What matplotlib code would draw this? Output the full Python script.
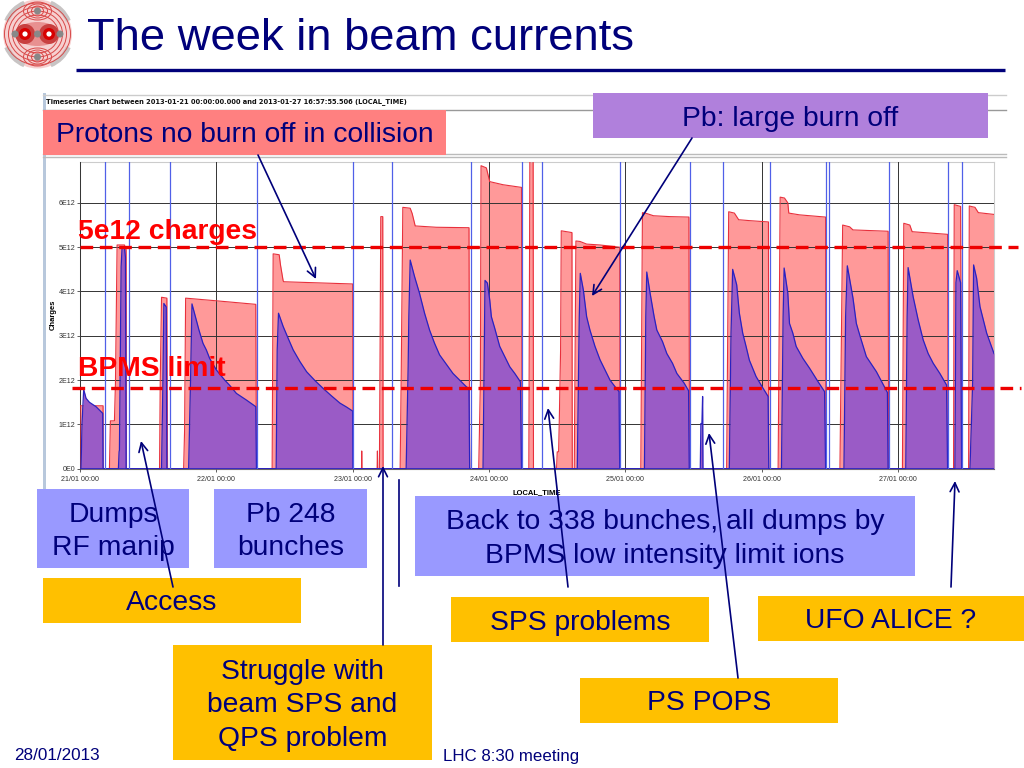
import matplotlib
matplotlib.use('Agg')
import matplotlib.pyplot as plt
from matplotlib.patches import Rectangle, Circle, Ellipse, Wedge

plt.rcParams['font.family'] = ['Liberation Sans', 'DejaVu Sans']

# hours since 21/01 00:00, intensity in units of 1e12 charges
proton_t = [0, 0.02, 4.06, 4.07, 5.18, 5.35, 6.06, 6.24, 6.47, 6.53, 7.82, 8.12, 8.18,
            14.0, 14.12, 14.35, 15.29, 15.41,
            18.24, 18.41, 18.59, 24.0, 30.94, 31.06,
            33.82, 34.0, 35.06, 35.29, 35.76, 35.88, 48.0, 48.06,
            49.55, 49.59, 49.63, 52.3, 52.35, 52.4,
            52.7, 52.82, 52.94, 53.29, 53.35,
            56.35, 56.53, 56.82, 58.12, 58.47, 59.0, 62.71, 68.47, 68.59,
            70.18, 70.47, 70.59, 71.53, 72.12, 74.47, 77.71, 77.82,
            79.0, 79.18, 79.76, 79.82,
            83.88, 84.0, 84.24, 84.35, 84.59, 84.71, 86.59, 86.65,
            87.0, 87.29, 88.0, 89.18, 91.53, 95.0, 95.06,
            98.71, 99.0, 99.76, 100.94, 103.88, 107.18, 107.29,
            113.82, 114.18, 115.18, 115.94, 117.82, 121.18, 121.24,
            122.88, 123.24, 124.0, 124.59, 124.76, 126.65, 131.24, 131.29,
            133.76, 134.24, 135.47, 136.06, 142.24, 142.35,
            144.76, 145.0, 146.06, 146.47, 152.71, 152.82,
            153.76, 153.88, 155.0, 155.18,
            156.41, 156.53, 157.53, 158.12, 160.88]
proton_q = [0, 1.42, 1.42, 0, 0, 1.08, 1.08, 1.93, 4.41, 5.05, 5.05, 4.94, 0,
            0, 1.93, 3.87, 3.85, 0,
            0, 0.87, 3.85, 3.79, 3.71, 0,
            0, 4.85, 4.83, 4.6, 4.24, 4.22, 4.17, 0,
            0, 0.4, 0, 0, 0.4, 0,
            0, 2.67, 5.69, 5.69, 0,
            0, 2.0, 5.9, 5.88, 5.76, 5.48, 5.45, 5.44, 0,
            0, 1.93, 6.84, 6.79, 6.48, 6.41, 6.35, 0,
            0, 6.93, 6.93, 0,
            0, 0.38, 0.38, 1.0, 2.67, 5.37, 5.33, 0,
            0, 5.14, 5.13, 5.07, 5.05, 5.0, 0,
            0, 5.78, 5.76, 5.71, 5.69, 5.68, 0,
            0, 5.8, 5.77, 5.62, 5.6, 5.57, 0,
            0, 6.13, 6.11, 6.0, 5.77, 5.73, 5.68, 0,
            0, 5.5, 5.46, 5.39, 5.36, 0,
            0, 5.54, 5.5, 5.35, 5.29, 0,
            0, 5.96, 5.92, 0,
            0, 5.93, 5.9, 5.78, 5.74]

lead_t = [0.18, 0.35, 0.65, 1.06, 1.65, 2.82, 4.0, 4.06,
          6.76, 6.88, 6.94, 7.24, 7.41, 7.82, 8.0, 8.12,
          14.35, 14.59, 14.76, 15.18, 15.29,
          19.12, 19.47, 19.71, 20.47, 20.94, 21.65, 22.24, 22.82, 24.0, 25.47, 26.29, 27.53, 28.35, 29.29, 30.94, 31.06,
          34.53, 34.71, 34.94, 35.35, 35.76, 36.65, 37.53, 38.7, 39.88, 41.35, 42.82, 44.3, 45.76, 46.94, 48.0, 48.03,
          57.41, 57.76, 57.88, 58.12, 58.88, 59.76, 60.65, 61.53, 62.41, 63.29, 64.47, 65.65, 66.82, 68.0, 68.47, 68.59,
          70.94, 71.12, 71.29, 71.71, 72.12, 72.41, 73.0, 73.88, 74.76, 75.65, 76.53, 77.53, 77.71,
          87.53, 87.88, 88.06, 88.59, 89.18, 89.76, 90.65, 91.53, 92.41, 93.29, 94.18, 94.88, 95.0,
          99.35, 99.59, 99.76, 100.35, 101.06, 101.53, 102.53, 103.29, 104.29, 105.06, 106.35, 107.12, 107.24,
          109.18, 109.29, 109.47, 109.59, 109.65,
          114.29, 114.59, 114.88, 115.59, 116.06, 116.65, 117.24, 117.82, 119.0, 119.88, 121.12, 121.24,
          123.47, 123.76, 123.94, 124.59, 124.88, 125.47, 126.06, 127.24, 128.41, 129.88, 131.06, 131.24,
          134.47, 134.76, 135.06, 135.59, 136.06, 136.65, 137.24, 138.41, 140.18, 142.12, 142.24,
          145.35, 145.59, 145.76, 146.65, 147.53, 148.41, 149.29, 150.18, 151.35, 152.53, 152.71,
          154.0, 154.18, 154.41, 155.0, 155.18,
          156.65, 157.12, 157.29, 157.82, 158.41, 159.0, 159.59, 160.88]
lead_q = [0, 1.0, 1.79, 1.59, 1.5, 1.4, 1.25, 0,
          0, 0.38, 0.42, 4.56, 5.0, 5.0, 4.77, 0,
          0, 1.93, 3.73, 3.65, 0,
          0, 2.08, 3.72, 3.36, 3.13, 2.83, 2.68, 2.49, 2.23, 2.0, 1.89, 1.7, 1.63, 1.55, 1.4, 0,
          0, 2.68, 3.51, 3.36, 3.21, 2.94, 2.68, 2.42, 2.19, 1.99, 1.81, 1.64, 1.48, 1.39, 1.3, 0,
          0, 2.3, 3.43, 4.71, 4.34, 3.96, 3.51, 3.13, 2.83, 2.57, 2.36, 2.15, 2.0, 1.85, 1.81, 0,
          0, 2.08, 4.25, 4.19, 3.81, 3.43, 3.17, 2.76, 2.53, 2.3, 2.15, 1.96, 0,
          0, 3.43, 4.41, 4.04, 3.43, 3.13, 2.76, 2.46, 2.23, 2.0, 1.85, 1.74, 0,
          0, 3.43, 4.44, 3.96, 3.43, 3.13, 2.87, 2.6, 2.38, 2.15, 1.93, 1.76, 0,
          0, 1.02, 1.02, 1.63, 0,
          0, 3.06, 4.5, 4.15, 3.51, 3.06, 2.76, 2.45, 2.08, 1.89, 1.63, 0,
          0, 3.43, 4.53, 3.96, 3.28, 3.06, 2.76, 2.49, 2.27, 1.97, 1.74, 0,
          0, 3.43, 4.58, 4.19, 3.85, 3.28, 3.02, 2.53, 2.19, 1.72, 0,
          0, 3.43, 4.54, 3.88, 3.36, 2.91, 2.6, 2.38, 2.15, 1.89, 0,
          0, 4.2, 4.47, 4.2, 0,
          0, 1.93, 4.6, 4.3, 3.66, 3.36, 3.06, 2.6]

fill_marks = [4.35, 8.59, 15.82, 31.24, 48.0, 54.94, 68.82, 77.88, 81.35, 95.12,
              107.35, 113.12, 121.41, 131.29, 131.88, 142.41, 152.82, 155.29]
day_ticks = [0, 24, 48, 72, 96, 120, 144]
day_labels = ['21/01 00:00', '22/01 00:00', '23/01 00:00', '24/01 00:00',
              '25/01 00:00', '26/01 00:00', '27/01 00:00']
q_ticks = [0, 1, 2, 3, 4, 5, 6]
q_labels = ['0E0', '1E12', '2E12', '3E12', '4E12', '5E12', '6E12']

W, H = 1024, 768
NAVY = '#00007a'
fig = plt.figure(figsize=(W / 100, H / 100), dpi=100)

# slide layer, in pixels
bg = fig.add_axes([0, 0, 1, 1], zorder=0)
bg.set_xlim(0, W)
bg.set_ylim(H, 0)
bg.axis('off')

# chart window behind the plot
bg.add_patch(Rectangle((43, 93), 2.5, 397, fc='#b8c8dc', ec='none'))
bg.plot([43, 1006], [95, 95], color='#cccccc', lw=1)
bg.plot([43, 1006], [110, 110], color='#999999', lw=1)
for yy in (154, 157):
    bg.plot([43, 1006], [yy, yy], color='#bbbbbb', lw=1)
bg.text(46, 102, 'Timeseries Chart between 2013-01-21 00:00:00.000 and 2013-01-27 16:57:55.506 (LOCAL_TIME)',
        fontsize=5.3, fontweight='bold', color='#111111', va='center', family=['DejaVu Sans'],
        stretch='condensed')

# the timeseries chart itself
ax = fig.add_axes([80 / W, 1 - 468.7 / H, 914 / W, 307 / H], zorder=1)
ax.set_xlim(0, 160.88)
ax.set_ylim(0, 6.93)
ax.fill_between(proton_t, proton_q, color='#ff9999', lw=0, zorder=2)
ax.plot(proton_t, proton_q, color='#e8303c', lw=0.8, zorder=3)
ax.fill_between(lead_t, lead_q, color='#9a5bc6', lw=0, zorder=4)
ax.plot(lead_t, lead_q, color='#2a22c0', lw=0.9, zorder=5)
ax.plot([0, 160.88], [0, 0], color='#2a22c0', lw=1.2, zorder=5)
for t in fill_marks:
    ax.axvline(t, color='#5060e8', lw=0.9, zorder=6)
ax.set_xticks(day_ticks)
ax.set_xticklabels(day_labels, fontsize=5.1, color='#333333')
ax.set_yticks(q_ticks)
ax.set_yticklabels(q_labels, fontsize=5.1, color='#333333')
ax.tick_params(length=2, width=0.6, color='#444444')
ax.tick_params(axis='x', pad=3)
ax.tick_params(axis='y', pad=1.5)
ax.grid(True, color='#333333', lw=0.7, zorder=3)
ax.set_axisbelow(False)
ax.set_xlabel('LOCAL_TIME', fontsize=5.5, fontweight='bold', labelpad=4.8)
ax.set_ylabel('Charges', fontsize=5.5, fontweight='bold', labelpad=1)
for side in ('top', 'right', 'left'):
    ax.spines[side].set_color('#cccccc')
ax.spines['bottom'].set_color('#666666')

# annotation layer
top = fig.add_axes([0, 0, 1, 1], zorder=2)
top.set_xlim(0, W)
top.set_ylim(H, 0)
top.axis('off')
top.patch.set_alpha(0)

# logo
top.add_patch(Circle((37.5, 34), 34.5, fc='#f6d0d0', ec='none'))
for a in (45, 135, 225, 315):
    top.add_patch(Wedge((37.5, 34), 36, a - 22, a + 22, width=5, fc='#c8c4c4', ec='none'))
for rx, ry in ((33, 31), (29, 27), (25, 23), (21, 19)):
    top.add_patch(Ellipse((37.5, 34), rx * 2, ry * 2, fc='none', ec='#d84848', lw=0.7))
for cy in (11, 57):
    for rx, ry in ((14, 9), (10, 7), (6, 5)):
        top.add_patch(Ellipse((37.5, cy), rx * 2, ry * 2, fc='none', ec='#d84848', lw=0.7))
top.add_patch(Ellipse((37.5, 34), 44, 24, fc='#e89090', ec='none'))
for cx in (25, 49):
    top.add_patch(Circle((cx, 34), 10, fc='#c84040', ec='none'))
    top.add_patch(Circle((cx, 34), 6, fc='#d80000', ec='none'))
    top.add_patch(Circle((cx, 34), 2.6, fc='white', ec='none'))
for cx, cy in ((37.5, 11), (37.5, 57), (15, 34), (60, 34), (37.5, 34)):
    top.add_patch(Circle((cx, cy), 3.5, fc='#888888', ec='none'))

top.text(87, 50, 'The week in beam currents', fontsize=32.7, color=NAVY, va='baseline')
top.plot([76, 1005], [69.5, 69.5], color=NAVY, lw=2.4, solid_capstyle='butt')

# (x0, y0, x1, y1, colour, text)
boxes = [
    (43, 110, 446, 155, '#ff8080', 'Protons no burn off in collision'),
    (593, 93, 988, 138, '#b080dc', 'Pb: large burn off'),
    (37, 489, 189, 568, '#9999ff', 'Dumps\nRF manip'),
    (214, 489, 367, 568, '#9999ff', 'Pb 248\nbunches'),
    (415, 496, 915, 576, '#9999ff', 'Back to 338 bunches, all dumps by\nBPMS low intensity limit ions'),
    (43, 578, 301, 623, '#ffc000', 'Access'),
    (451, 597, 709, 642, '#ffc000', 'SPS problems'),
    (758, 596, 1024, 641, '#ffc000', 'UFO ALICE ?'),
    (173, 645, 432, 760, '#ffc000', 'Struggle with\nbeam SPS and\nQPS problem'),
    (580, 678, 838, 723, '#ffc000', 'PS POPS'),
]
for x0, y0, x1, y1, col, txt in boxes:
    top.add_patch(Rectangle((x0, y0), x1 - x0, y1 - y0, fc=col, ec='none'))
    top.text((x0 + x1) / 2, (y0 + y1) / 2 + 3, txt, fontsize=20.3, color=NAVY, ha='center',
             va='center', linespacing=1.39)

arrows = [
    ((258, 155), (316, 279)),
    ((692, 138), (592, 296)),
    ((173, 587), (141, 441)),
    ((383, 645), (383, 466)),
    ((568, 587), (548, 408)),
    ((738, 678), (709, 433)),
    ((951, 587), (955, 481)),
]
for start, end in arrows:
    top.annotate('', xy=end, xytext=start,
                 arrowprops=dict(arrowstyle='->', color=NAVY, lw=1.2, mutation_scale=16,
                                 shrinkA=0, shrinkB=0))
top.plot([399, 399], [480, 586], color=NAVY, lw=1.2)

# limits
top.plot([80, 1018], [247, 247], color='#ee0000', lw=2.4, dashes=(3.8, 2.0))
top.plot([72, 1021], [387.5, 387.5], color='#ee0000', lw=2.4, dashes=(3.8, 2.0))
top.text(78, 232, '5e12 charges', fontsize=20.3, fontweight='bold', color='#ff0000', va='center')
top.text(78, 369, 'BPMS limit', fontsize=20.3, fontweight='bold', color='#ff0000', va='center')

# footer
top.text(14, 755, '28/01/2013', fontsize=12.3, color=NAVY, va='center')
top.text(443, 757, 'LHC 8:30 meeting', fontsize=12.2, color=NAVY, va='center')

fig.savefig('out.png', dpi=100)
